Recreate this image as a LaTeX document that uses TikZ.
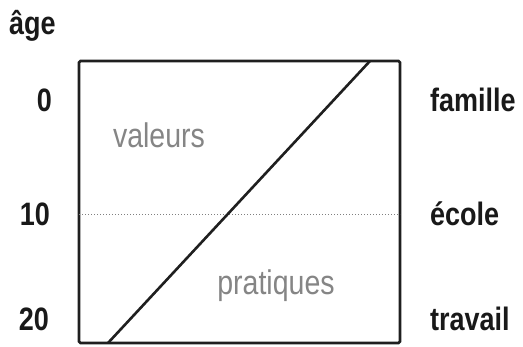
\documentclass[tikz,border=0pt]{standalone}
\usepackage{fontspec}
\setmainfont{Liberation Sans}
\newcommand{\tallx}[1]{\scalebox{1}[1.2]{#1}}
\begin{document}
\begin{tikzpicture}[x=1pt,y=-1pt,
  lbl/.style={font=\fontsize{27}{30}\selectfont\bfseries, inner sep=0pt, text=black!90},
  inner/.style={font=\fontsize{28.5}{31}\selectfont, inner sep=0pt, text=black!48},
  frame/.style={line width=2.8pt, rounded corners=1.5pt, draw=black!88},
  diag/.style={line width=2.6pt, draw=black!88}]
\useasboundingbox (0,0) rectangle (523,347);
\draw[frame] (79,61) rectangle (400,343);
\coordinate (dl) at (79,215);
\coordinate (dr) at (400,215);
\draw[black!50, line width=1pt, dotted] (dl) -- (dr);
\coordinate (d1) at (108,343);
\coordinate (d2) at (370,61);
\draw[diag] (d1) -- (d2);
\node[lbl, anchor=base west] (age) at (9,35) {\tallx{âge}};
\node[lbl, anchor=base east] (a0) at (52,112) {\tallx{0}};
\node[lbl, anchor=base east] (a10) at (50,226) {\tallx{10}};
\node[lbl, anchor=base east] (a20) at (49,331) {\tallx{20}};
\node[lbl, anchor=base west] (fam) at (430,112) {\tallx{famille}};
\node[lbl, anchor=base west] (eco) at (430,226) {\tallx{école}};
\node[lbl, anchor=base west] (tra) at (430,331) {\tallx{travail}};
\node[inner, anchor=base] (val) at (159,148) {\tallx{valeurs}};
\node[inner, anchor=base] (pra) at (276,295) {\tallx{pratiques}};
\end{tikzpicture}
\end{document}
